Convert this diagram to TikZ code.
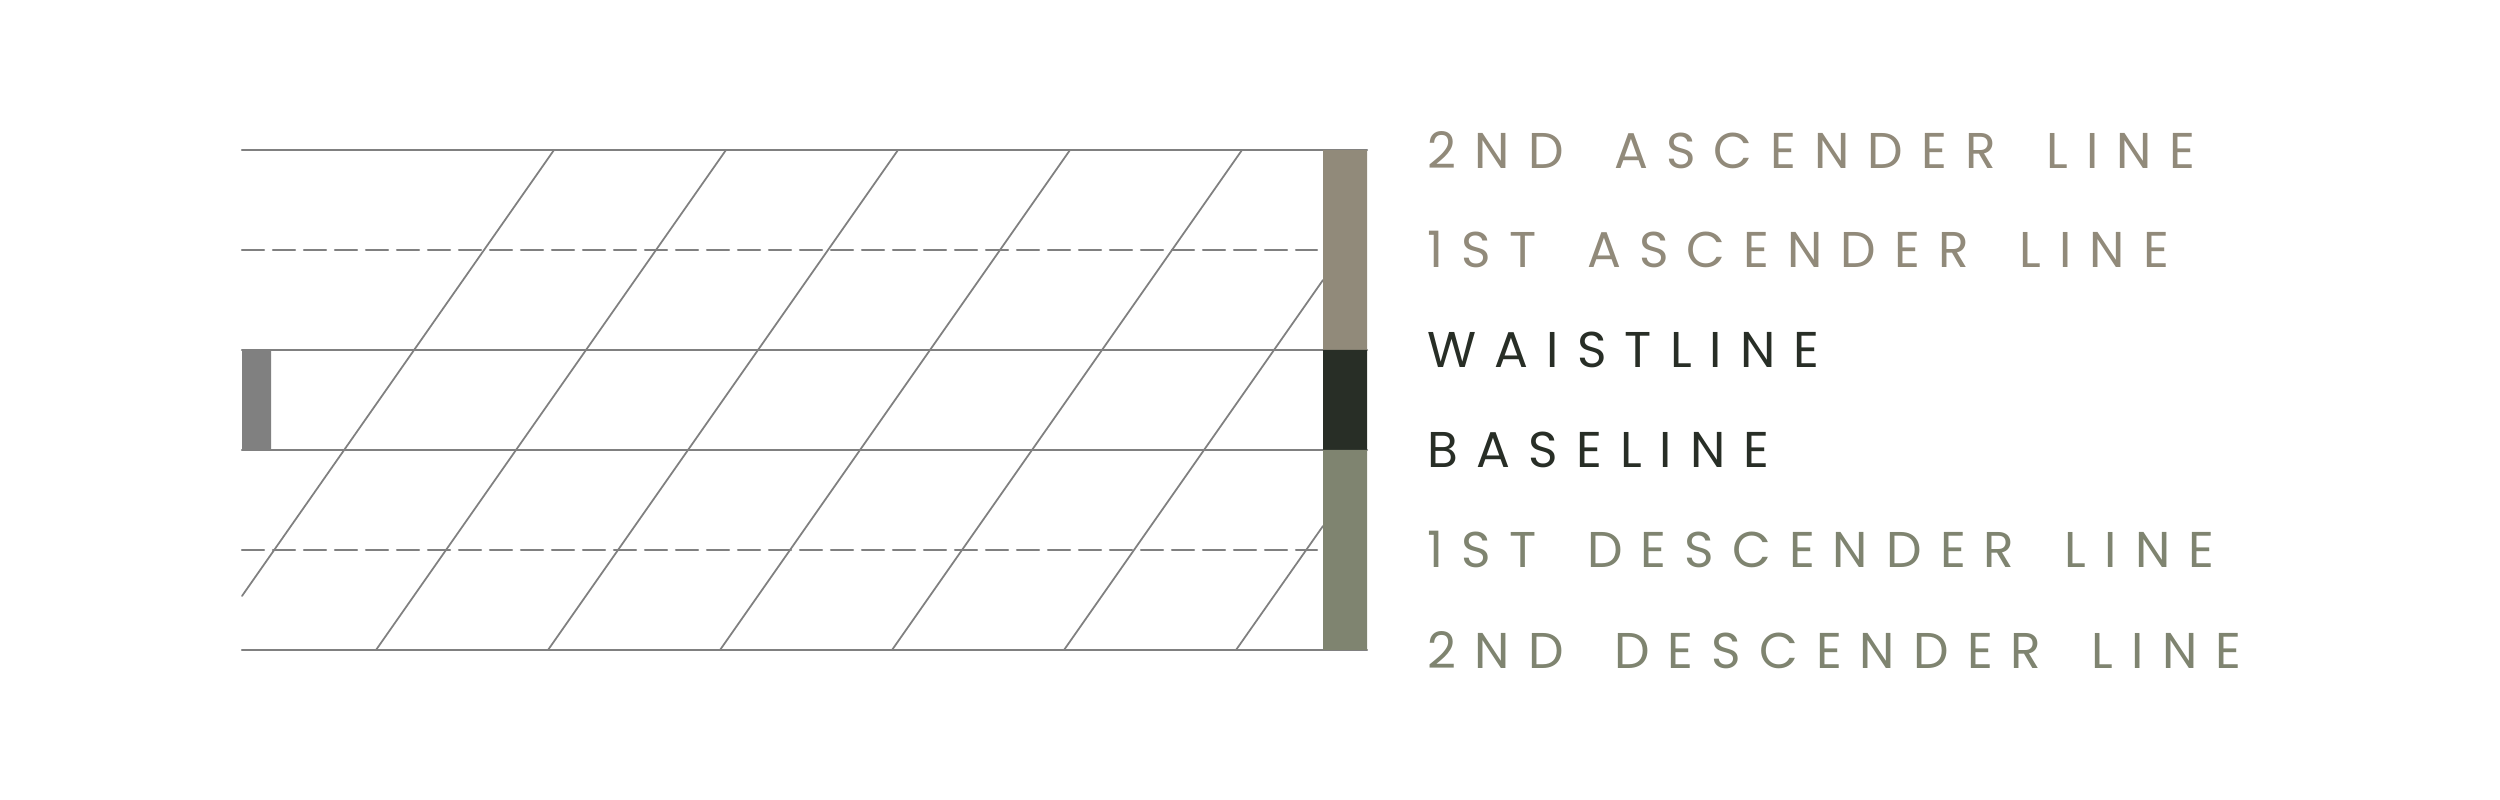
\documentclass[tikz,border=0pt]{standalone}
\usepackage{tkz-euclide}
\usepackage{fontspec}
\setmainfont{Poppins}[LetterSpace=36, WordSpace=1.6]

\definecolor{taupe}{HTML}{918A7A}
\definecolor{ink}{HTML}{282E26}
\definecolor{sage}{HTML}{7F8470}
\definecolor{rulegray}{HTML}{808080}

\tikzset{
  guide/.style={color=rulegray, line width=0.6pt},
  slant/.style={color=rulegray, line width=0.5pt},
  guidedash/.style={guide, dash pattern=on 2.2mm off 0.9mm},
  linelabel/.style={anchor=west, inner sep=0pt, font=\fontsize{14.3}{17}\selectfont}
}

\begin{document}
\begin{tikzpicture}
		\useasboundingbox (0,0) rectangle (25,8);
		\tkzDefPoint(2.42,6.5){A}
		\tkzDefPoint(13.67,6.5){B}
		\tkzDefPoint(2.42,5.5){C}
		\tkzDefPoint(13.17,5.5){D}
		\tkzDefPoint(2.42,4.5){E}
		\tkzDefPoint(13.67,4.5){F}
		\tkzDefPoint(2.42,3.5){G}
		\tkzDefPoint(13.67,3.5){H}
		\tkzDefPoint(2.42,2.5){I}
		\tkzDefPoint(13.17,2.5){J}
		\tkzDefPoint(2.42,1.5){K}
		\tkzDefPoint(13.67,1.5){L}
		\tkzDrawSegments[guide](A,B E,F G,H K,L)
		\tkzDrawSegments[guidedash](C,D I,J)

		\tkzDefPoints{2.42/2.04/S0, 3.76/1.5/S1, 5.48/1.5/S2, 7.20/1.5/S3,
		  8.92/1.5/S4, 10.64/1.5/S5, 12.36/1.5/S6}
		\tkzDefPoints{5.54/6.5/T0, 7.26/6.5/T1, 8.98/6.5/T2, 10.70/6.5/T3,
		  12.42/6.5/T4, 13.23/5.2/T5, 13.23/2.74/T6}
		\tkzDrawSegments[slant](S0,T0 S1,T1 S2,T2 S3,T3 S4,T4 S5,T5 S6,T6)

		\tkzDefPoint(2.71,4.5){M}
		\tkzDefPoint(2.71,3.5){N}
		\tkzDrawPolygon[draw=none,fill=rulegray](G,N,M,E)

		\tkzDefPoint(13.23,6.5){O}
		\tkzDefPoint(13.23,4.5){P}
		\tkzDefPoint(13.23,3.5){Q}
		\tkzDefPoint(13.23,1.5){R}
		\tkzDrawPolygon[draw=none,fill=taupe](P,F,B,O)
		\tkzDrawPolygon[draw=none,fill=ink](Q,H,F,P)
		\tkzDrawPolygon[draw=none,fill=sage](R,L,H,Q)

		\node[linelabel, text=taupe] (asctwo) at (14.27,6.5) {2ND ASCENDER LINE};
		\node[linelabel, text=taupe] (ascone) at (14.27,5.5) {1ST ASCENDER LINE};
		\node[linelabel, text=ink] (waist) at (14.27,4.5) {WAISTLINE};
		\node[linelabel, text=ink] (base) at (14.27,3.5) {BASELINE};
		\node[linelabel, text=sage] (descone) at (14.27,2.5) {1ST DESCENDER LINE};
		\node[linelabel, text=sage] (desctwo) at (14.27,1.5) {2ND DESCENDER LINE};
	\end{tikzpicture}
\end{document}
